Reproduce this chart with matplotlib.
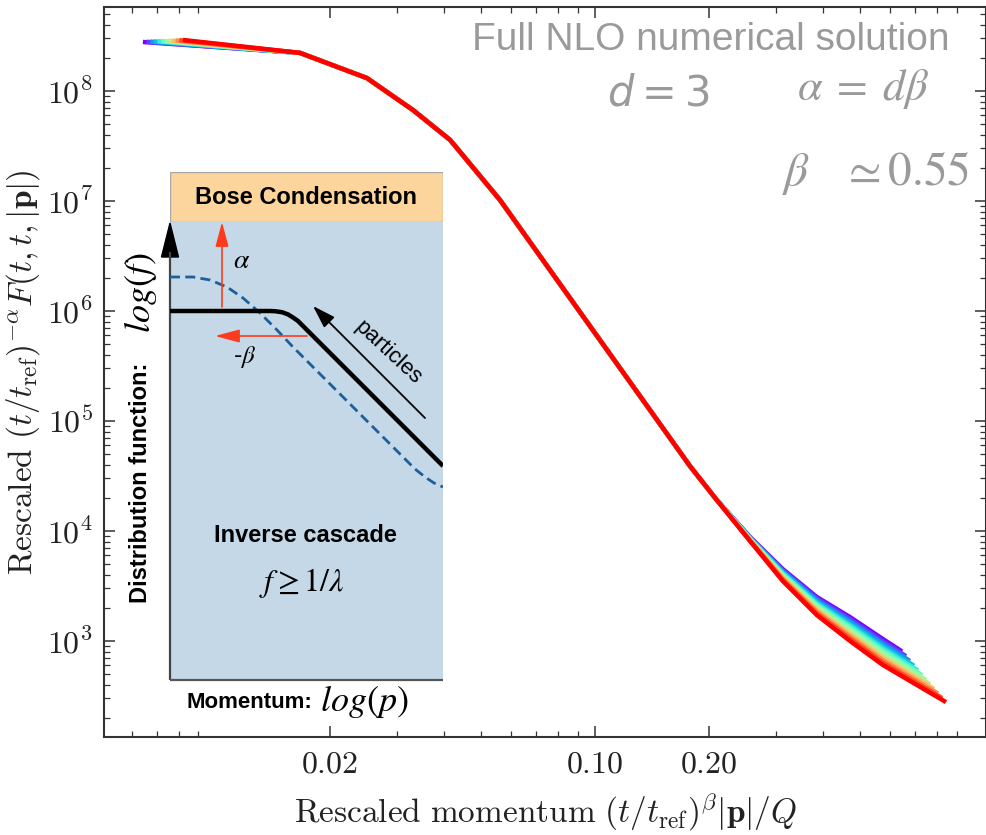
import numpy as np
import matplotlib.pyplot as plt
from matplotlib.patches import Rectangle, Polygon
from matplotlib.ticker import FixedLocator, FixedFormatter, NullFormatter

plt.rcParams['mathtext.fontset'] = 'cm'

W, H = 987, 835

# rescaled distribution, one curve per time slice (earliest = violet, latest = red)
start_x = [0.00642, 0.00656, 0.00671, 0.00686, 0.00701, 0.00717,
           0.00733, 0.00749, 0.00766, 0.00783, 0.00801, 0.00819]
start_y = [2.79e8, 2.80e8, 2.81e8, 2.82e8, 2.83e8, 2.84e8,
           2.85e8, 2.86e8, 2.87e8, 2.88e8, 2.90e8, 2.91e8]

shared_x = [0.01667, 0.02504, 0.0331, 0.0415, 0.0562, 0.0761, 0.1031, 0.1397, 0.1781, 0.2075]
shared_y = [2.22e8, 1.31e8, 6.72e7, 3.59e7, 1.02e7, 2.36e6, 5.45e5, 1.26e5, 3.9e4, 2.0e4]

tail_x = [0.2565, 0.313, 0.385, 0.471, 0.575]
tail_y = [
    [8.82e3, 4.51e3, 2.51e3, 1.65e3, 1043],
    [8.75e3, 4.41e3, 2.43e3, 1.58e3, 992],
    [8.69e3, 4.31e3, 2.35e3, 1.51e3, 945],
    [8.62e3, 4.21e3, 2.27e3, 1.44e3, 899],
    [8.56e3, 4.12e3, 2.19e3, 1.38e3, 855],
    [8.49e3, 4.03e3, 2.12e3, 1.32e3, 814],
    [8.43e3, 3.94e3, 2.05e3, 1.26e3, 775],
    [8.36e3, 3.85e3, 1.98e3, 1.20e3, 737],
    [8.30e3, 3.76e3, 1.91e3, 1.15e3, 702],
    [8.24e3, 3.68e3, 1.85e3, 1.10e3, 668],
    [8.17e3, 3.59e3, 1.78e3, 1.05e3, 636],
    [8.11e3, 3.51e3, 1.72e3, 1.00e3, 605],
]
end_x = [0.646, 0.662, 0.678, 0.695, 0.712, 0.730,
         0.747, 0.766, 0.785, 0.804, 0.824, 0.844]
end_y = [804, 728, 658, 595, 539, 489, 443, 403, 366, 333, 303, 278]

x_major = [0.02, 0.10, 0.20]
x_major_labels = [r'$0.02$', r'$0.10$', r'$0.20$']
x_minor = [0.006, 0.007, 0.008, 0.009,
           0.03, 0.04, 0.05, 0.06, 0.07, 0.08, 0.09,
           0.3, 0.4, 0.5, 0.6, 0.7, 0.8, 0.9]
y_exponents = [3, 4, 5, 6, 7, 8]
y_major = [10.0 ** e for e in y_exponents]
y_major_labels = [r'$10^{%d}$' % e for e in y_exponents]
y_minor = [m * 10.0 ** e for e in range(2, 9) for m in range(2, 10)]

# sketch of the inverse cascade (inset units: px from top-left of the panel)
cond_x = [0, 100, 105, 112, 118, 123, 128, 273]
cond_y = [139, 139, 139.2, 140.2, 142.4, 145.5, 149, 294]
dash_x = [0, 23, 40, 57, 73, 90, 107, 123, 245, 255, 264, 273]
dash_y = [105, 105, 108, 115, 126, 141, 158, 175, 297, 305, 311, 315]


def fx(px):
    return px / W


def fy(py):
    return 1 - py / H


fig = plt.figure(figsize=(W / 100, H / 100), dpi=100)
ax = fig.add_axes([fx(104), fy(737), 882 / W, 730 / H])

colors = plt.cm.rainbow(np.linspace(0, 1, len(tail_y)))
for k, c in enumerate(colors):
    xs = [start_x[k]] + shared_x + tail_x + [end_x[k]]
    ys = [start_y[k]] + shared_y + tail_y[k] + [end_y[k]]
    ax.plot(xs, ys, color=c, lw=3.2, solid_joinstyle='round',
            solid_capstyle='butt', zorder=2 + k)

ax.set_xscale('log')
ax.set_yscale('log')
ax.set_xlim(0.00507, 1.076)
ax.set_ylim(134, 5.8e8)

ax.xaxis.set_major_locator(FixedLocator(x_major))
ax.xaxis.set_major_formatter(FixedFormatter(x_major_labels))
ax.xaxis.set_minor_locator(FixedLocator(x_minor))
ax.xaxis.set_minor_formatter(NullFormatter())
ax.yaxis.set_major_locator(FixedLocator(y_major))
ax.yaxis.set_major_formatter(FixedFormatter(y_major_labels))
ax.yaxis.set_minor_locator(FixedLocator(y_minor))
ax.yaxis.set_minor_formatter(NullFormatter())

ax.tick_params(which='both', direction='in', top=True, right=True,
               color='#333333', labelsize=23, labelcolor='#222222')
ax.tick_params(which='major', length=8, width=1.1, pad=8)
ax.tick_params(which='minor', length=4.5, width=0.9)
for sp in ax.spines.values():
    sp.set_color('#333333')
    sp.set_linewidth(1.5)

ax.set_xlabel(r'$\mathrm{Rescaled\ momentum}\ (t/t_{\mathrm{ref}})^{\beta}|\mathbf{p}|/Q$',
              fontsize=24, color='#222222')
ax.xaxis.set_label_coords(0.5, -0.075)
ax.set_ylabel(r'$\mathrm{Rescaled}\ (t/t_{\mathrm{ref}})^{-\alpha}F(t,t,|\mathbf{p}|)$',
              fontsize=24, color='#222222')
ax.yaxis.set_label_coords(-0.07, 0.5)

# annotations, top right
gray = '#9a9a9a'
fig.text(fx(950), fy(50), 'Full NLO numerical solution', ha='right', va='baseline',
         fontsize=28, color=gray, family='Liberation Sans')
fig.text(fx(607), fy(105), r'$d = 3$', ha='left', va='baseline', fontsize=30,
         color=gray, math_fontfamily='dejavusans')
fig.text(fx(797), fy(100), r'$\alpha\;=\;d\beta$', ha='left', va='baseline', fontsize=32,
         color=gray, math_fontfamily='stix')
fig.text(fx(970), fy(185), r'$\beta\ \ \ \simeq 0.55$', ha='right', va='baseline', fontsize=34,
         color=gray, math_fontfamily='stix')

# inset sketch
ins = fig.add_axes([fx(170), fy(680), 273 / W, 508 / H])
ins.set_xlim(0, 273)
ins.set_ylim(508, 0)
ins.axis('off')

ins.add_patch(Rectangle((0, 0), 273, 50, fc='#fcd59c', ec='#a8a8a8', lw=1))
ins.add_patch(Rectangle((0, 50), 273, 458, fc='#c5d8e7', ec='none'))
ins.plot([273, 273], [50, 508], color='#d0c4cc', lw=0.8)
ins.plot([0, 0], [508, 80], color='#444444', lw=1.6, solid_capstyle='butt', clip_on=False)
ins.plot([0, 273], [508, 508], color='#555555', lw=1.6, solid_capstyle='butt', clip_on=False)
ins.add_patch(Polygon([(-8.5, 85), (8.5, 85), (0, 51)], closed=True, color='black',
                      clip_on=False))

ins.plot(dash_x, dash_y, color='#1c5f9a', lw=2.0, ls=(0, (3.6, 1.9)))
ins.plot(cond_x, cond_y, color='black', lw=3.2, solid_capstyle='butt')

red = '#ff3b1d'
ins.annotate('', xy=(52, 50), xytext=(52, 135),
             arrowprops=dict(arrowstyle='-|>,head_length=1.5,head_width=0.4',
                             color=red, lw=1.2, shrinkA=0, shrinkB=0, mutation_scale=10))
ins.annotate('', xy=(45, 164), xytext=(137, 164),
             arrowprops=dict(arrowstyle='-|>,head_length=1.5,head_width=0.4',
                             color=red, lw=1.2, shrinkA=0, shrinkB=0, mutation_scale=10))
ins.annotate('', xy=(143, 134), xytext=(255, 246),
             arrowprops=dict(arrowstyle='-|>,head_length=1.4,head_width=0.45',
                             color='black', lw=1.3, shrinkA=0, shrinkB=0, mutation_scale=10))

ins.text(72, 88, r'$\alpha$', ha='center', va='center', fontsize=20, math_fontfamily='stix')
ins.text(75, 185, r'-$\beta$', ha='center', va='center', fontsize=18, math_fontfamily='stix',
         family='Liberation Sans')
ins.text(218, 181, 'particles', ha='center', va='center', rotation=-43, fontsize=16,
         family='Liberation Sans')
ins.text(136, 25, 'Bose Condensation', ha='center', va='center', fontsize=17,
         fontweight='bold', family='Liberation Sans')
ins.text(135, 363, 'Inverse cascade', ha='center', va='center', fontsize=17,
         fontweight='bold', family='Liberation Sans')
ins.text(132, 411, r'$f \geq 1/\lambda$', ha='center', va='center', fontsize=23,
         math_fontfamily='stix')
ins.text(17, 531, 'Momentum:', ha='left', va='center', fontsize=16,
         fontweight='bold', family='Liberation Sans')
ins.text(150, 529, r'$log(p)$', ha='left', va='center', fontsize=26, math_fontfamily='stix')
ins.text(-29, 311, 'Distribution function:', ha='center', va='center', rotation=90,
         fontsize=17, fontweight='bold', family='Liberation Sans')
ins.text(-29, 121, r'$log(f)$', ha='center', va='center', rotation=90, fontsize=26,
         math_fontfamily='stix')

fig.savefig('out.png', dpi=100)
